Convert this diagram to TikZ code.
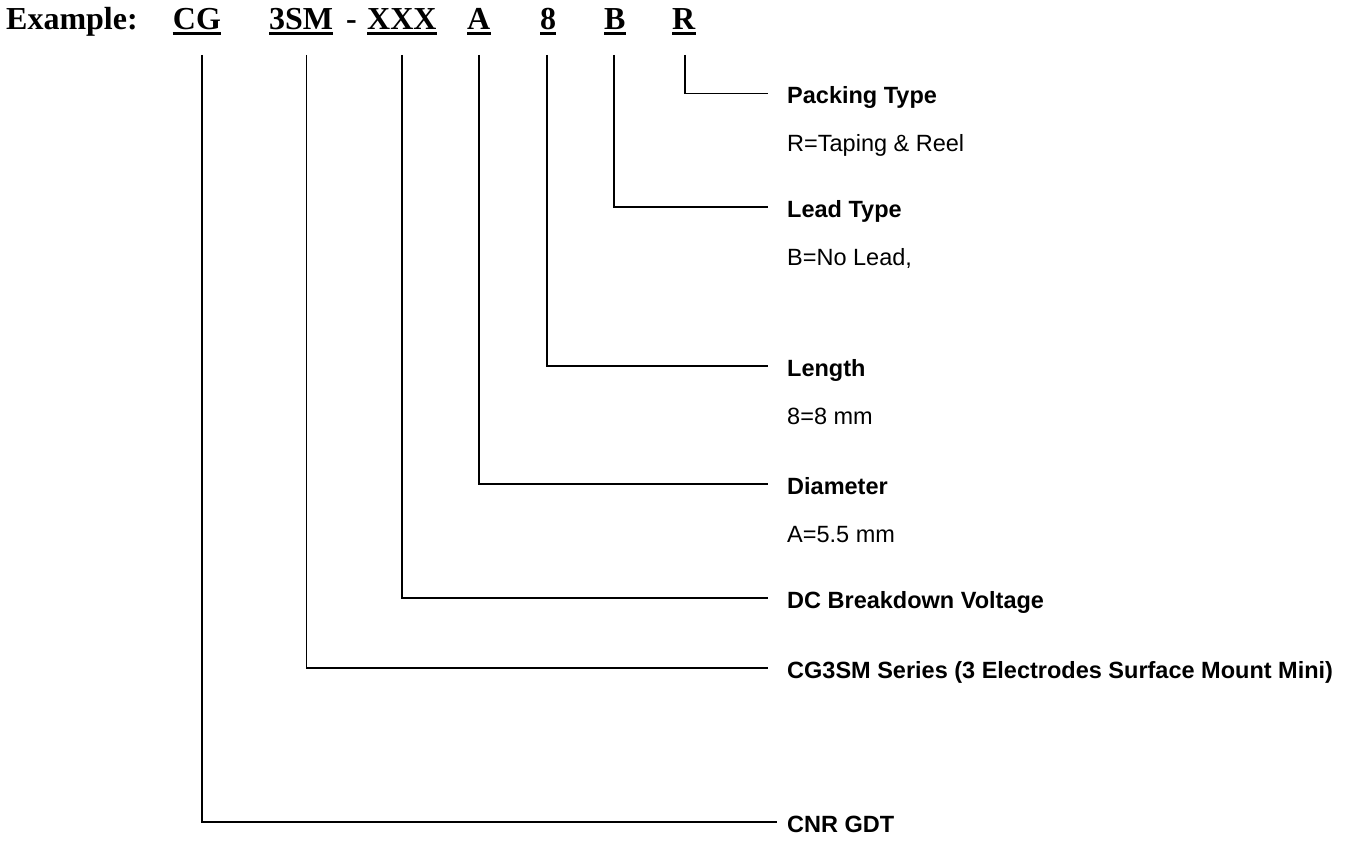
\documentclass[tikz,border=0pt]{standalone}
\usepackage{fontspec}
\setmainfont{Liberation Sans}
\newfontfamily\hdrfont{Liberation Serif}
\begin{document}
\begin{tikzpicture}[x=1pt,y=-1pt,
  hdr/.style={inner sep=0pt,anchor=base west,font=\hdrfont\bfseries\fontsize{32}{38}\selectfont},
  ttl/.style={inner sep=0pt,anchor=base west,font=\bfseries\fontsize{23.5}{28}\selectfont},
  sub/.style={inner sep=0pt,anchor=base west,font=\fontsize{23.5}{28}\selectfont},
  ul/.style={line width=3pt},
  lead/.style={line width=1.4pt}]
\useasboundingbox (0,0) rectangle (1367,840);
% header
\node[hdr] (ex) at (6,30) {Example:};
\node[hdr] (cg) at (172.7,30) {CG};
\node[hdr] (sm) at (269,30) {3SM};
\node[hdr] (dash) at (346,30) {-};
\node[hdr] (xxx) at (367,30) {XXX};
\node[hdr] (a) at (467,30) {A};
\node[hdr] (e8) at (540,30) {8};
\node[hdr] (b) at (604,30) {B};
\node[hdr] (r) at (672,30) {R};
\foreach \n in {cg,sm,xxx,a,e8,b,r}{
  \draw[ul] ([yshift=-4pt]\n.base west) -- ([yshift=-4pt]\n.base east);
}
% line tops
\coordinate (tcg) at (202,55);
\coordinate (tsm) at (306.5,55);
\coordinate (txxx) at (402,55);
\coordinate (ta) at (479,55);
\coordinate (t8) at (547,55);
\coordinate (tb) at (614,55);
\coordinate (tr) at (685,55);
% line ends
\coordinate (er) at (768,93.5);
\coordinate (eb) at (768,207);
\coordinate (e8e) at (768,366);
\coordinate (ea) at (768,484);
\coordinate (exxx) at (768,598);
\coordinate (esm) at (768,668);
\coordinate (ecg) at (777,822);
% labels
\node[ttl] (lr) at (787,103.5) {Packing Type};
\node[sub] (sr) at (787,151.5) {R=Taping \& Reel};
\node[ttl] (lb) at (787,217) {Lead Type};
\node[sub] (sb) at (787,265) {B=No Lead,};
\node[ttl] (l8) at (787,376) {Length};
\node[sub] (s8) at (787,424) {8=8 mm};
\node[ttl] (la) at (787,494) {Diameter};
\node[sub] (sa) at (787,542) {A=5.5 mm};
\node[ttl] (lxxx) at (787,608) {DC Breakdown Voltage};
\node[ttl] (lsm) at (787,678) {CG3SM Series (3 Electrodes Surface Mount Mini)};
\node[ttl] (lcg) at (787,832) {CNR GDT};
% connectors
\draw[lead] (tr) |- (er);
\draw[lead] (tb) |- (eb);
\draw[lead] (t8) |- (e8e);
\draw[lead] (ta) |- (ea);
\draw[lead] (txxx) |- (exxx);
\draw[lead] (tsm) |- (esm);
\draw[lead] (tcg) |- (ecg);
\end{tikzpicture}
\end{document}
